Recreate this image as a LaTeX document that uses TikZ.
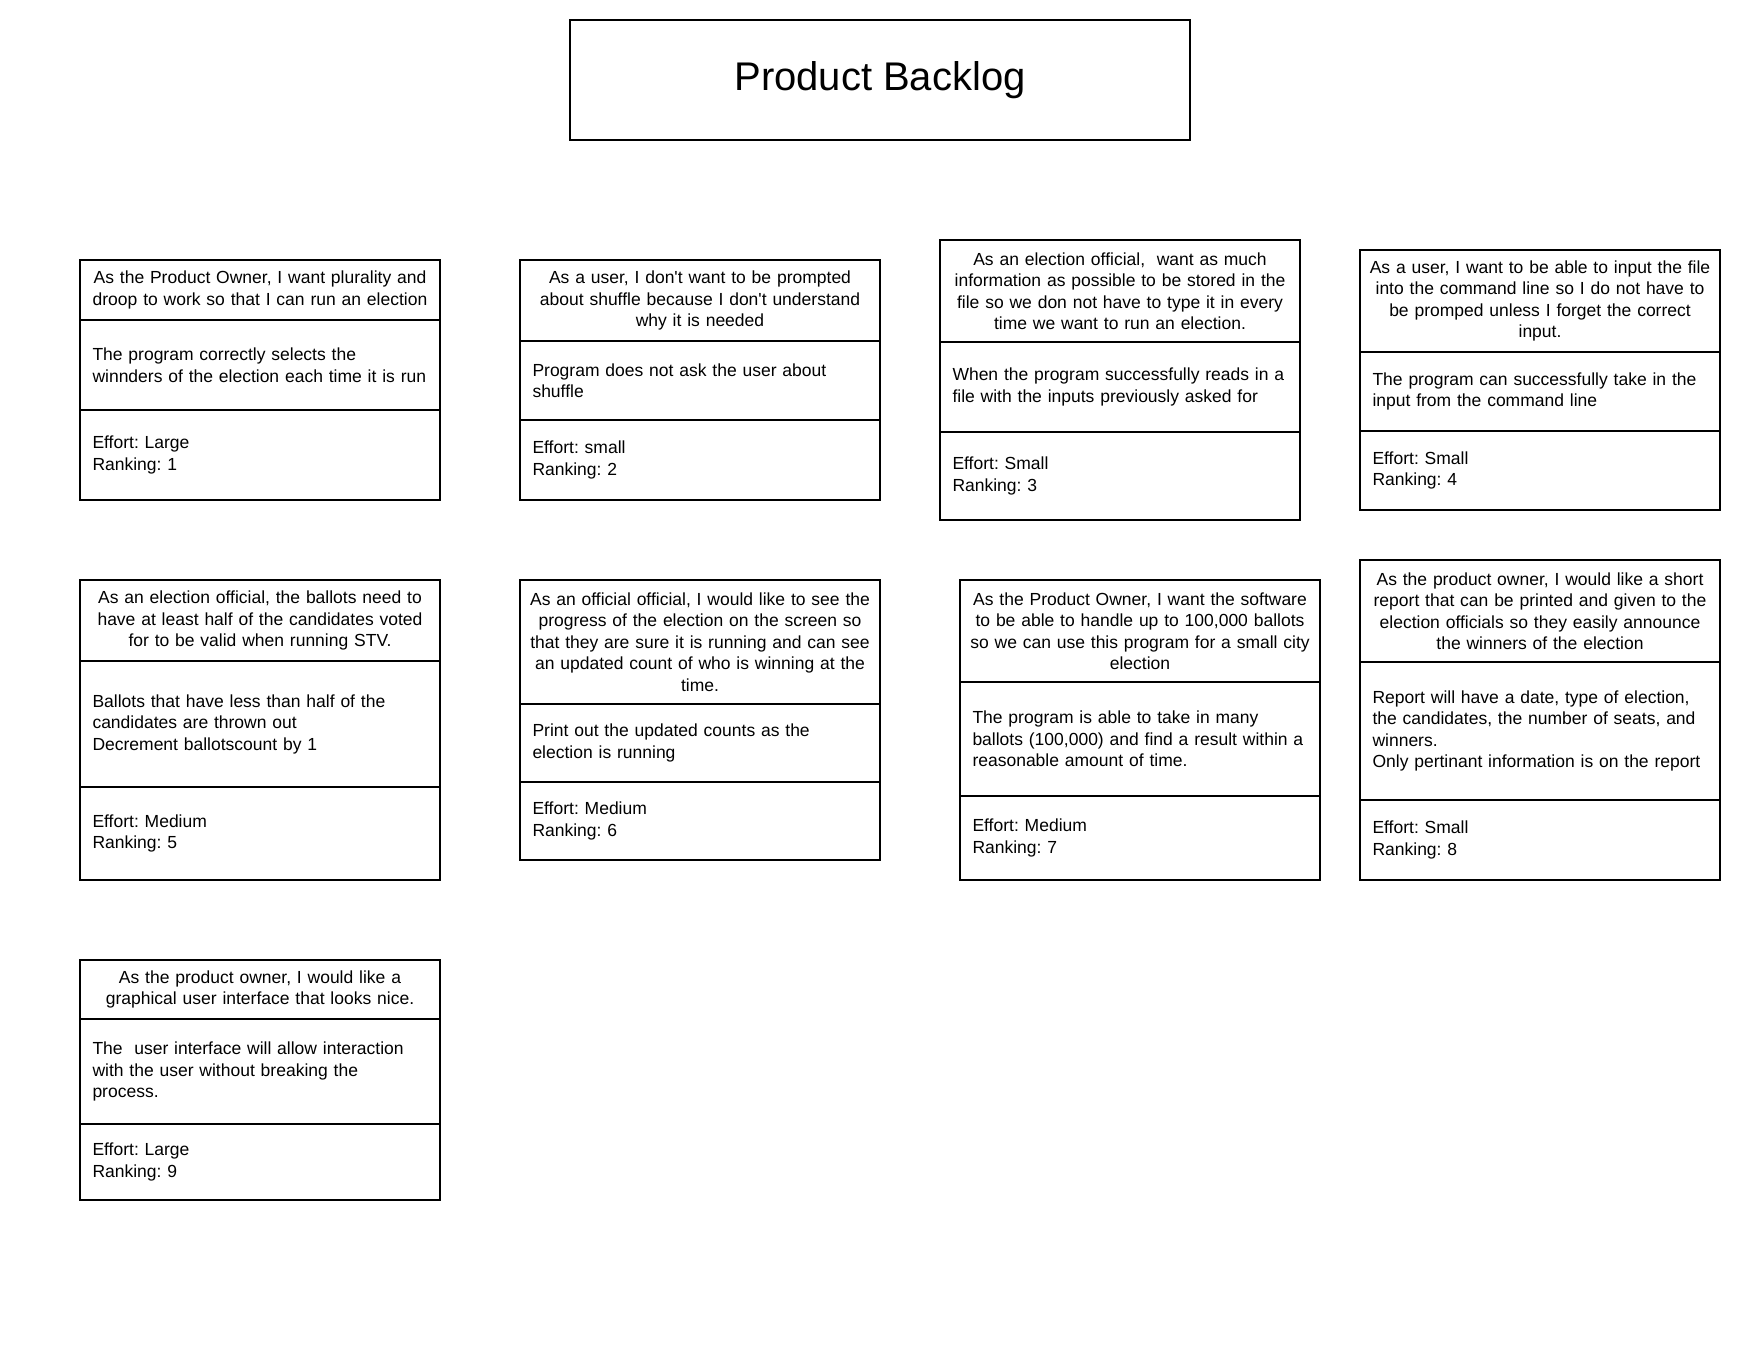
\documentclass[tikz,border=0pt]{standalone}
\usepackage{fontspec}
\setmainfont{Liberation Sans}[Ligatures=TeXOff]
\newcommand\cellsetup{\frenchspacing\hyphenpenalty=10000 }
\newcommand\bodysetup{\frenchspacing\hyphenpenalty=10000 \leftskip=12.5pt }
\tikzset{
  cellbase/.style={draw=black, line width=2pt, outer sep=0pt, anchor=north west,
    minimum width=360pt, inner ysep=0pt, inner xsep=0pt, text width=360pt,
    font=\fontsize{17.5}{21.5}\selectfont},
  headcell/.style={cellbase, align=center, execute at begin node=\cellsetup},
  bodycell/.style={cellbase, align=left, execute at begin node=\bodysetup},
  titlebox/.style={draw=black, line width=2pt, outer sep=0pt, anchor=north west,
    minimum width=620pt, minimum height=120pt, font=\fontsize{40}{48}\selectfont},
}
\newcommand\storycard[9]{%
  \node[headcell, minimum height={(#4)-(#3)}] (#1h) at (#2,#3) {#7};
  \node[bodycell, minimum height={(#5)-(#4)}] (#1b) at (#2,#4) {#8};
  \node[bodycell, minimum height={(#6)-(#5)}] (#1f) at (#2,#5) {#9};
}
\begin{document}
\begin{tikzpicture}[x=1pt,y=-1pt]
\useasboundingbox (0,0) rectangle (1760,1360);
\node[titlebox] (title) at (570,20) {Product Backlog};

\storycard{c1}{80}{260}{320}{410}{499.5}
  {As the Product Owner, I want plurality and\\droop to work so that I can run an election}
  {The program correctly selects the\\winnders of the election each time it is run}
  {Effort: Large\\Ranking: 1}

\storycard{c2}{520}{260}{341}{420}{499.5}
  {As a user, I don't want to be prompted\\about shuffle because I don't understand\\why it is needed}
  {Program does not ask the user about\\shuffle}
  {Effort: small\\Ranking: 2}

\storycard{c3}{940}{240}{342}{432}{520}
  {As an election official,\ \ want as much\\information as possible to be stored in the\\file so we don not have to type it in every\\time we want to run an election.}
  {When the program successfully reads in a\\file with the inputs previously asked for}
  {Effort: Small\\Ranking: 3}

\storycard{c4}{1360}{250}{352}{431}{509.5}
  {As a user, I want to be able to input the file\\into the command line so I do not have to\\be promped unless I forget the correct\\input.}
  {The program can successfully take in the\\input from the command line}
  {Effort: Small\\Ranking: 4}

\storycard{c5}{80}{580}{661}{787}{880}
  {As an election official, the ballots need to\\have at least half of the candidates voted\\for to be valid when running STV.}
  {Ballots that have less than half of the\\candidates are thrown out\\Decrement ballotscount by 1}
  {Effort: Medium\\Ranking: 5}

\storycard{c6}{520}{580}{704}{782}{860}
  {As an official official, I would like to see the\\progress of the election on the screen so\\that they are sure it is running and can see\\an updated count of who is winning at the\\time.}
  {Print out the updated counts as the\\election is running}
  {Effort: Medium\\Ranking: 6}

\storycard{c7}{960}{580}{682}{796}{880}
  {As the Product Owner, I want the software\\to be able to handle up to 100,000 ballots\\so we can use this program for a small city\\election}
  {The program is able to take in many\\ballots (100,000) and find a result within a\\reasonable amount of time.}
  {Effort: Medium\\Ranking: 7}

\storycard{c8}{1360}{560}{662}{800}{880}
  {As the product owner, I would like a short\\report that can be printed and given to the\\election officials so they easily announce\\the winners of the election}
  {Report will have a date, type of election,\\the candidates, the number of seats, and\\winners.\\Only pertinant information is on the report}
  {Effort: Small\\Ranking: 8}

\storycard{c9}{80}{960}{1019}{1124}{1200}
  {As the product owner, I would like a\\graphical user interface that looks nice.}
  {The\ \ user interface will allow interaction\\with the user without breaking the\\process.}
  {Effort: Large\\Ranking: 9}
\end{tikzpicture}
\end{document}
